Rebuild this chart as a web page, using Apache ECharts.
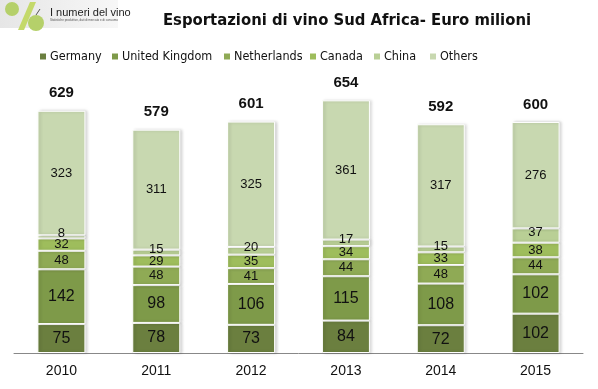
<!DOCTYPE html>
<html><head><meta charset="utf-8">
<script src="https://cdn.jsdelivr.net/npm/echarts@6/dist/echarts.min.js"></script>
<style>html,body{margin:0;padding:0;background:#fff}#c{width:598px;height:389px}</style>
</head><body><div id="c"></div>
<script>
const years = ['2010','2011','2012','2013','2014','2015'];
const germany = [75, 78, 73, 84, 72, 102];
const uk = [142, 98, 106, 115, 108, 102];
const netherlands = [48, 48, 41, 44, 48, 44];
const canada = [32, 29, 35, 34, 33, 38];
const china = [8, 15, 20, 17, 15, 37];
const others = [323, 311, 325, 361, 317, 276];
const totals = [629, 579, 601, 654, 592, 600];

const F = '"Liberation Sans Narrow","DejaVu Sans Condensed","Liberation Sans",Arial,sans-serif';
const chart = echarts.init(document.getElementById('c'));
const colors = ['#6b7f3f','#7e9a49','#8faa55','#9ebd5c','#b9cf95','#c8d8b0'];
const names = ['Germany','United Kingdom','Netherlands','Canada','China','Others'];
const legendLeft = [38, 110, 222, 308, 372, 428];
const data = [germany, uk, netherlands, canada, china, others];
const big = [16,16,13,13,13,13];
const series = data.map((d,i)=>({
  name: names[i], type:'bar', stack:'t', data:d, barWidth:48,
  itemStyle:{color:colors[i], borderColor:'#fff', borderWidth:1,
    shadowColor:'rgba(0,0,0,0.18)', shadowBlur:3, shadowOffsetX:2},
  label:{show:true, position:'inside', color:'#111', fontFamily:'Liberation Sans,Arial,sans-serif', fontSize:big[i],
    offset: i===4 ? [0,-3] : [0,0]},
  emphasis:{disabled:true}
}));
series.push({
  name:'tot', type:'bar', stack:'t', data: years.map(()=>0), barWidth:48,
  itemStyle:{color:'transparent'},
  label:{show:true, position:'top', distance:10, fontWeight:'bold', fontSize:15, color:'#111',
    fontFamily:'Liberation Sans,Arial,sans-serif',
    formatter:p=>totals[p.dataIndex]},
  emphasis:{disabled:true}, silent:true
});
chart.setOption({
  animation:false,
  title:{text:'Esportazioni di vino Sud Africa- Euro milioni', left:342, textAlign:'center', top:7,
    textStyle:{fontFamily:F, fontSize:16.5, fontWeight:'bold', color:'#111'}},
  legend: names.map((n,i)=>({data:[n], top:45, left:legendLeft[i]-5, itemWidth:8, itemHeight:8,
    icon:'rect', selectedMode:false, textStyle:{fontFamily:F, fontSize:12.5, color:'#111', padding:[0,0,0,-2]}})),
  grid:{left:14, right:15, top:83, bottom:36},
  xAxis:{type:'category', data:years, axisLine:{lineStyle:{color:'#888'}}, axisTick:{show:false},
    axisLabel:{fontFamily:'Liberation Sans,Arial,sans-serif', fontSize:14, color:'#111', margin:11}},
  yAxis:{type:'value', min:0, max:700, show:false},
  series:series,
  graphic:[
    {type:'rect', shape:{x:0,y:0,width:118,height:28}, style:{fill:{type:'linear',x:0,y:0,x2:1,y2:0,colorStops:[{offset:0,color:'#e6e6e6'},{offset:1,color:'#f7f7f7'}]}}, z:0},
    {type:'polygon', shape:{points:[[18,30],[24,30],[36,2],[30,2]]}, style:{fill:'#c4d96a'}},
    {type:'circle', shape:{cx:12,cy:9,r:7}, style:{fill:'#b5d06a'}},
    {type:'circle', shape:{cx:36,cy:23,r:8}, style:{fill:'#b5d06a'}},
    {type:'line', shape:{x1:36,y1:15,x2:40,y2:9}, style:{stroke:'#555',lineWidth:1}},
    {type:'text', left:50, top:7, style:{text:'I numeri del vino', fontFamily:'Liberation Sans,Arial,sans-serif', fontSize:11, fill:'#222'}},
    {type:'text', left:50, top:19, style:{text:'Statistiche produttive, dati di mercato e di consumo', fontFamily:'Liberation Sans,Arial,sans-serif', fontSize:3, fill:'#555'}}
  ]
});
</script></body></html>
